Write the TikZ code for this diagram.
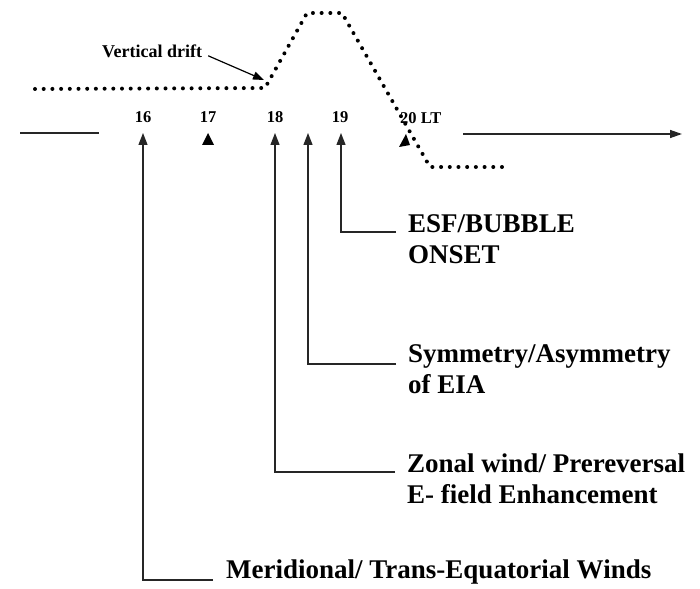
\documentclass[tikz,border=0pt]{standalone}
\usepackage{fontspec}
\setmainfont{Liberation Serif}
\usetikzlibrary{arrows.meta}
\begin{document}
\begin{tikzpicture}[x=1pt,y=-1pt,
  conn/.style={draw=black!85, line width=1.3pt},
  arr/.style={conn, -{Triangle[length=12pt,width=9pt]}},
  tick/.style={font=\fontsize{16.5}{18}\selectfont\bfseries, inner sep=0pt, anchor=base},
  lbl/.style={font=\fontsize{27}{31}\selectfont\bfseries, inner sep=0pt, align=left, anchor=base west},
  drift/.style={line width=4pt, line cap=round, dash pattern=on 0pt off 8.7pt}]
\useasboundingbox (0,0) rectangle (700,588);

% drift curve
\draw[drift] (35,89) -- (265,88) -- (307,13) -- (342,13) -- (430,167) -- (503,167);

% vertical drift label
\node[font=\fontsize{18}{20}\selectfont\bfseries, inner sep=0pt, anchor=base west] (vd) at (102,58) {Vertical drift};
\coordinate (vdend) at (264,80);
\draw[line width=1.2pt, -{Triangle[length=11pt,width=8pt]}] ([xshift=6pt,yshift=-4pt]vd.east) -- (vdend);

% time axis
\coordinate (axL1) at (20,133);
\coordinate (axL2) at (99,133);
\coordinate (axR1) at (463,134);
\coordinate (axR2) at (682,134);
\draw[conn] (axL1) -- (axL2);
\draw[conn, -{Triangle[length=12pt,width=8pt]}] (axR1) -- (axR2);

% hour labels
\node[tick] (h16) at (143,123) {16};
\node[tick] (h17) at (208,123) {17};
\node[tick] (h18) at (275,123) {18};
\node[tick] (h19) at (340,123) {19};
\node[tick, anchor=base west] (h20) at (400,124) {20 LT};

% arrow tips under the hours
\coordinate (p16) at (143,133);
\coordinate (p18) at (275,133);
\coordinate (pm) at (308,133);
\coordinate (p19) at (341,133);
\fill (202,145) -- (214,145) -- (208,133) -- cycle;
\fill (399,147) -- (410,145) -- (406,134) -- cycle;

% labels (base anchor = baseline of the last line)
\node[lbl] (esf) at (408,263) {ESF/BUBBLE\\ONSET};
\node[lbl] (sym) at (408,393) {Symmetry/Asymmetry\\of EIA};
\node[lbl] (zon) at (407,503) {Zonal wind/ Prereversal\\E- field Enhancement};
\node[lbl] (mer) at (226,578) {Meridional/ Trans-Equatorial Winds};

% connectors
\draw[arr] ([xshift=-12pt,yshift=31pt]esf.base west) -| (p19);
\draw[arr] ([xshift=-12pt,yshift=29pt]sym.base west) -| (pm);
\draw[arr] ([xshift=-12pt,yshift=31pt]zon.base west) -| (p18);
\draw[arr] ([xshift=-13pt,yshift=-2pt]mer.base west) -| (p16);
\end{tikzpicture}
\end{document}
